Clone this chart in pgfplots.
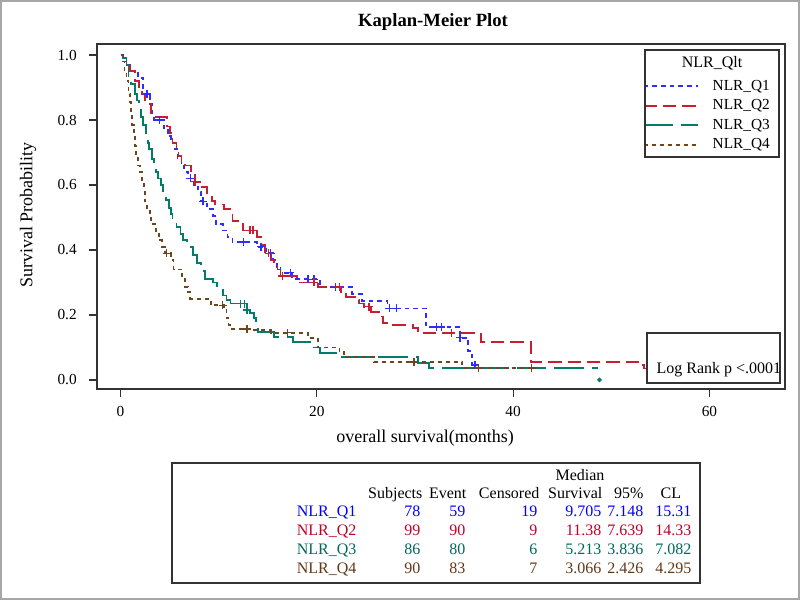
\documentclass[border=0pt]{standalone}
\usepackage{fontspec}
\setmainfont{Liberation Serif}
\usepackage{pgfplots}
\pgfplotsset{compat=1.18}
\definecolor{cQone}{RGB}{45,45,255}
\definecolor{cQtwo}{RGB}{200,30,50}
\definecolor{cQthree}{RGB}{0,125,105}
\definecolor{cQfour}{RGB}{110,70,30}
\definecolor{tQone}{RGB}{0,0,255}
\definecolor{tQtwo}{RGB}{190,0,40}
\definecolor{tQthree}{RGB}{0,105,90}
\definecolor{tQfour}{RGB}{100,55,20}
\begin{document}
\fontsize{12}{14}\selectfont
\begin{tikzpicture}
\begin{scope}[x=0.75pt,y=-0.75pt,yshift=450pt]
\useasboundingbox (0,0) rectangle (800,600);
\draw[gray!70, line width=1.5pt] (1,1) rectangle (799,599);
\end{scope}
\begin{axis}[
  at={(72.75pt,158.25pt)}, anchor=south west,
  width=516pt, height=258.75pt, scale only axis,
  xmin=-2.4, xmax=67.7, ymin=-0.028, ymax=1.034,
  xtick={0,20,40,60}, ytick={0,0.2,0.4,0.6,0.8,1.0},
  tick align=outside, tick pos=left, major tick length=6pt,
  axis line style={line width=0.9pt, black!80},
  tick style={line width=0.9pt, black!80},
  /pgf/number format/assume math mode=true,
  tick label style={font=\fontsize{11.5}{13.5}\selectfont},
  yticklabel style={xshift=-5pt, /pgf/number format/.cd, fixed, fixed zerofill, precision=1},
  xticklabel style={yshift=-2.5pt},
  every axis plot/.append style={line width=1.35pt},
  legend style={draw=none, fill=none, at={(0.988,0.912)}, anchor=north east,
    font=\fontsize{11.5}{13.5}\selectfont, row sep=1.2pt,
    /tikz/every odd column/.append style={column sep=8pt}},
  legend image code/.code={\draw[#1, line width=1.6pt] (0pt,0pt) -- (41pt,0pt);},
]
% NLR_Q1
\addplot[const plot, color=cQone, dash pattern=on 3.5pt off 3pt] coordinates {
(0,1) (0.3,0.98) (0.6,0.97) (1.0,0.95) (1.8,0.93) (2.3,0.88) (3.0,0.85) (3.2,0.82) (3.4,0.80) (4.4,0.77) (4.8,0.75) (5.1,0.73) (5.5,0.71) (5.8,0.68) (6.2,0.66) (6.5,0.64) (6.9,0.62) (7.5,0.60) (7.9,0.58) (8.2,0.55) (8.8,0.525) (9.4,0.505) (9.7,0.48) (10.4,0.46) (10.9,0.44) (11.4,0.425) (13.9,0.41) (14.8,0.39) (15.5,0.37) (15.9,0.345) (16.3,0.33) (17.5,0.31) (20.3,0.285) (23.6,0.265) (24.6,0.243) (27.2,0.22) (31.1,0.163) (34.6,0.13) (35.4,0.09) (35.8,0.046) (36.1,0.046)};
\addlegendentry{NLR\_Q1}
% NLR_Q2
\addplot[const plot, color=cQtwo, dash pattern=on 10pt off 4.5pt] coordinates {
(0,1) (0.2,0.99) (0.6,0.97) (1.0,0.95) (1.5,0.92) (1.9,0.90) (2.2,0.88) (2.5,0.86) (2.7,0.85) (3.1,0.82) (3.6,0.81) (4.7,0.78) (5.0,0.76) (5.3,0.73) (5.7,0.71) (5.9,0.69) (6.2,0.67) (6.6,0.66) (7.2,0.64) (7.6,0.61) (8.3,0.595) (8.8,0.575) (9.3,0.55) (9.6,0.54) (10.5,0.525) (11.4,0.49) (12.0,0.48) (12.5,0.46) (13.9,0.44) (14.3,0.415) (14.7,0.39) (15.3,0.37) (15.6,0.35) (16.0,0.34) (16.3,0.32) (18.0,0.30) (20.1,0.285) (22.5,0.27) (23.0,0.255) (23.9,0.245) (24.3,0.235) (24.8,0.225) (25.5,0.21) (26.3,0.195) (26.7,0.175) (27.4,0.17) (29.8,0.16) (30.3,0.145) (36.7,0.117) (41.8,0.055) (52.9,0.045) (53.3,0.035) (53.7,0.025) (54.2,0.025)};
\addlegendentry{NLR\_Q2}
% NLR_Q3
\addplot[const plot, color=cQthree, dash pattern=on 22pt off 6pt] coordinates {
(0,1) (0.2,0.99) (0.6,0.97) (0.8,0.93) (1.1,0.91) (1.5,0.88) (1.7,0.86) (1.9,0.84) (2.1,0.81) (2.3,0.785) (2.6,0.76) (2.8,0.73) (2.9,0.71) (3.2,0.68) (3.4,0.66) (3.6,0.64) (3.8,0.62) (4.1,0.60) (4.3,0.575) (4.6,0.555) (4.9,0.53) (5.1,0.51) (5.3,0.49) (5.7,0.47) (6.1,0.45) (6.4,0.43) (6.8,0.41) (7.4,0.385) (7.8,0.36) (8.2,0.335) (8.6,0.31) (9.4,0.30) (9.8,0.28) (10.4,0.26) (10.8,0.245) (11.2,0.235) (12.9,0.215) (13.2,0.205) (13.6,0.19) (13.8,0.163) (14.0,0.148) (15.6,0.132) (17.6,0.117) (19.7,0.10) (20.3,0.083) (22.2,0.07) (30.3,0.052) (31.4,0.037) (48.6,0.037)};
\addlegendentry{NLR\_Q3}
% NLR_Q4
\addplot[const plot, color=cQfour, dash pattern=on 3pt off 3pt] coordinates {
(0,1) (0.2,0.98) (0.4,0.95) (0.6,0.92) (0.8,0.88) (1.0,0.855) (1.1,0.82) (1.2,0.785) (1.4,0.75) (1.5,0.72) (1.6,0.69) (1.8,0.66) (2.0,0.64) (2.2,0.61) (2.4,0.585) (2.5,0.55) (2.7,0.52) (3.0,0.50) (3.1,0.48) (3.6,0.45) (3.9,0.43) (4.2,0.41) (4.5,0.39) (5.1,0.37) (5.4,0.34) (6.3,0.31) (6.6,0.285) (6.9,0.27) (7.1,0.25) (9.2,0.23) (10.5,0.215) (10.8,0.19) (11.0,0.17) (11.2,0.157) (13.3,0.153) (15.3,0.145) (19.1,0.13) (20.1,0.10) (22.3,0.085) (22.8,0.07) (25.8,0.055) (34.8,0.037) (41.9,0.037)};
\addlegendentry{NLR\_Q4}
% censored marks
\addplot[forget plot, only marks, mark=+, mark size=3pt, color=cQone, line width=1pt] coordinates {
(2.7,0.88) (4.0,0.80) (7.1,0.62) (8.4,0.55) (12.5,0.425) (14.3,0.41) (15.3,0.39) (17.3,0.33) (19.1,0.31) (19.7,0.31) (21.9,0.285) (27.4,0.22) (28.1,0.22) (32.2,0.163) (32.7,0.163) (34.6,0.13) (36.1,0.046)};
\addplot[forget plot, only marks, mark=+, mark size=3pt, color=cQtwo, line width=1pt] coordinates {
(7.6,0.61) (13.2,0.46) (13.5,0.46) (15.1,0.39) (16.5,0.32) (19.7,0.30) (22.3,0.285) (25.3,0.225) (33.7,0.145)};
\addplot[forget plot, only marks, mark=+, mark size=3pt, color=cQthree, line width=1pt] coordinates {
(12.2,0.235) (12.6,0.235) (12.9,0.215) (41.9,0.037)};
\addplot[forget plot, only marks, mark=*, mark size=0.9pt, color=cQthree] coordinates {(48.8,0)};
\addplot[forget plot, only marks, mark=+, mark size=3pt, color=cQfour, line width=1pt] coordinates {
(4.7,0.39) (10.4,0.23) (12.9,0.157) (17.0,0.145) (29.9,0.055) (36.5,0.037) (41.9,0.037)};
\end{axis}
\begin{scope}[x=0.75pt,y=-0.75pt,yshift=450pt]
\node[font=\fontsize{14}{16}\selectfont\bfseries] at (433,22) {Kaplan-Meier Plot};
\node[rotate=90, font=\fontsize{13.5}{16}\selectfont] at (28,215) {Survival Probability};
\node[font=\fontsize{13.5}{16}\selectfont] at (425,438) {overall survival(months)};
% legend frame and title
\draw[black!80, line width=0.8pt] (645,50) rectangle (779,157);
\node at (712,63) {NLR\_Qlt};
% log rank box
\draw[black!80, line width=0.8pt, fill=white] (647,333) rectangle (780,383);
\node[anchor=mid west] at (651,370) {Log Rank p <.0001};
% table
\draw[black!80, line width=0.8pt] (172,463) rectangle (700,583);
\node[anchor=mid] at (580,477) {Median};
\node[anchor=mid east] at (428,495) {Subjects};
\node[anchor=mid east] at (472,495) {Event};
\node[anchor=mid east] at (545,495) {Censored};
\node[anchor=mid east] at (608,495) {Survival};
\node[anchor=mid east] at (649,495) {95\%};
\node[anchor=mid west] at (655,495) {CL};
\foreach \yy/\cc/\nm/\a/\b/\c/\d/\e/\f in {
  513/tQone/NLR\_Q1/78/59/19/9.705/7.148/15.31,
  532/tQtwo/NLR\_Q2/99/90/9/11.38/7.639/14.33,
  551/tQthree/NLR\_Q3/86/80/6/5.213/3.836/7.082,
  570/tQfour/NLR\_Q4/90/83/7/3.066/2.426/4.295}{
  \node[anchor=mid east, text=\cc] at (362,\yy) {\nm};
  \node[anchor=mid east, text=\cc] at (426,\yy) {\a};
  \node[anchor=mid east, text=\cc] at (471,\yy) {\b};
  \node[anchor=mid east, text=\cc] at (543,\yy) {\c};
  \node[anchor=mid east, text=\cc] at (607,\yy) {\d};
  \node[anchor=mid east, text=\cc] at (649,\yy) {\e};
  \node[anchor=mid east, text=\cc] at (697,\yy) {\f};
}
\end{scope}
\end{tikzpicture}
\end{document}
